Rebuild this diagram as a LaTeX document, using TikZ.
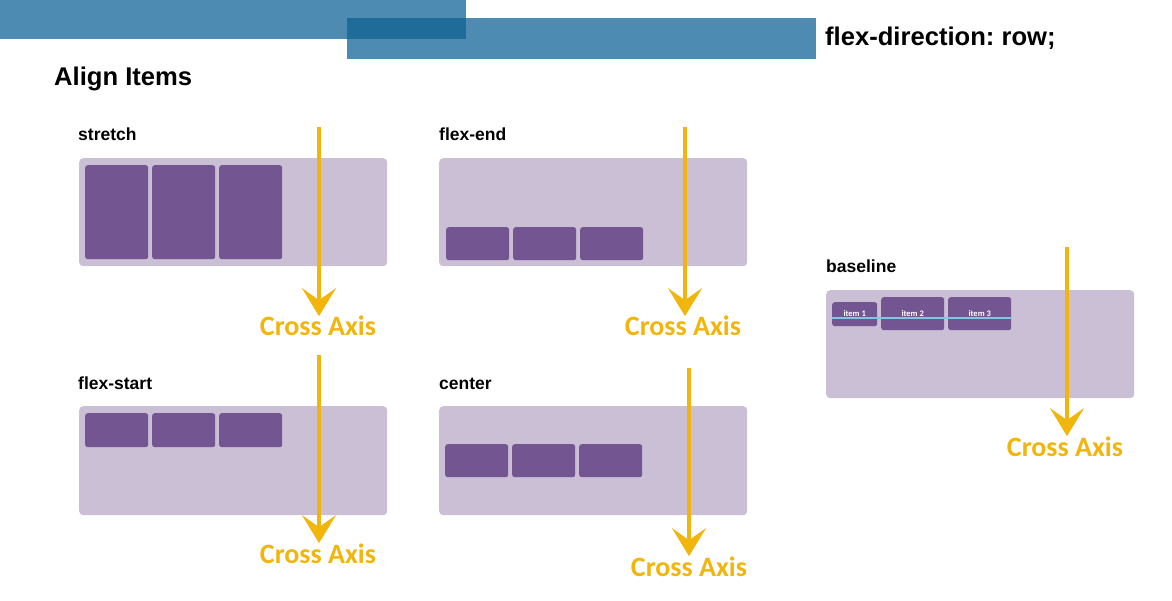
\documentclass[tikz,border=0pt]{standalone}
\usepackage{fontspec}
\setmainfont{Liberation Sans}
\newfontfamily\axisfont{Carlito}
\usetikzlibrary{arrows.meta}
\definecolor{barblue}{RGB}{78,139,179}
\definecolor{bardark}{RGB}{32,108,152}
\definecolor{boxlilac}{RGB}{203,191,214}
\definecolor{itempurple}{RGB}{115,85,146}
\definecolor{axisyellow}{RGB}{242,181,12}
\definecolor{baseblue}{RGB}{126,200,227}
\frenchspacing
\begin{document}
\begin{tikzpicture}[x=1pt,y=-1pt,
 container/.style={fill=boxlilac, rounded corners=4pt, draw=none, anchor=north west, inner sep=0, minimum width=308pt, minimum height=108pt},
 item/.style={fill=itempurple, rounded corners=2.5pt, anchor=north west, inner sep=0, minimum width=63pt},
 lbl/.style={anchor=base west, inner sep=0, font=\bfseries\fontsize{17.5}{20}\selectfont},
 headline/.style={anchor=base west, inner sep=0, font=\bfseries\fontsize{25.6}{28}\selectfont},
 axislbl/.style={anchor=base, inner sep=0, text=axisyellow, font=\axisfont\bfseries\fontsize{28}{30}\selectfont},
 axisarrow/.style={draw=axisyellow, line width=4pt, -{Stealth[length=28pt,width=34pt,inset=12pt]}},
 itemtxt/.style={text=white, font=\axisfont\bfseries\fontsize{8.5}{9}\selectfont, anchor=base, inner sep=0}
]
\useasboundingbox (0,0) rectangle (1172,601);
% header bars
\fill[barblue] (0,0) rectangle (466,39);
\fill[barblue] (347,18) rectangle (816,59);
\fill[bardark] (347,18) rectangle (466,39);
\node[headline] (title) at (54,86) {Align Items};
\node[headline] (fd) at (825,46) {flex-direction: row;};
% labels
\node[lbl] (lStretch) at (78,141) {stretch};
\node[lbl] (lEnd) at (439,141) {flex-end};
\node[lbl] (lStart) at (78,389) {flex-start};
\node[lbl] (lCenter) at (439,389) {center};
\node[lbl] (lBase) at (826,273) {baseline};
% containers
\node[container] (cStretch) at (79,158) {};
\node[container] (cEnd) at (439,158) {};
\node[container, minimum height=109pt] (cStart) at (79,406) {};
\node[container, minimum height=109pt] (cCenter) at (439,406) {};
\node[container] (cBase) at (826,290) {};
% stretch items
\node[item, minimum height=94pt] (s1) at (85,165) {};
\node[item, minimum height=94pt] (s2) at (152,165) {};
\node[item, minimum height=94pt] (s3) at (219,165) {};
% flex-end items
\node[item, minimum height=33pt] (e1) at (446,227) {};
\node[item, minimum height=33pt] (e2) at (513,227) {};
\node[item, minimum height=33pt] (e3) at (580,227) {};
% flex-start items
\node[item, minimum height=34pt] (f1) at (85,413) {};
\node[item, minimum height=34pt] (f2) at (152,413) {};
\node[item, minimum height=34pt] (f3) at (219,413) {};
% center items
\node[item, minimum height=33pt] (m1) at (445,444) {};
\node[item, minimum height=33pt] (m2) at (512,444) {};
\node[item, minimum height=33pt] (m3) at (579,444) {};
% baseline items
\node[item, minimum width=45pt, minimum height=24pt] (b1) at (832,302) {};
\node[item, minimum height=33pt] (b2) at (881,297) {};
\node[item, minimum height=33pt] (b3) at (948,297) {};
\coordinate (bl) at (0,318);
\coordinate (bt) at (0,317);
\node[itemtxt] (t1) at (b1.center |- bt) {item 1};
\node[itemtxt] (t2) at (b2.center |- bt) {item 2};
\node[itemtxt] (t3) at (b3.center |- bt) {item 3};
\draw[baseblue, line width=1.2pt] (b1.west |- bl) -- (b3.east |- bl);
% cross axis arrows
\coordinate (a1) at (319,127);
\node[axislbl] (x1) at (318,336) {Cross Axis};
\draw[axisarrow] (a1) -- (a1 |- x1.north);
\coordinate (a2) at (685,127);
\node[axislbl] (x2) at (683,336) {Cross Axis};
\draw[axisarrow] (a2) -- (a2 |- x2.north);
\coordinate (a3) at (319,355);
\node[axislbl] (x3) at (318,563) {Cross Axis};
\draw[axisarrow] (a3) -- (a3 |- x3.north);
\coordinate (a4) at (689,368);
\node[axislbl] (x4) at (689,576) {Cross Axis};
\draw[axisarrow] (a4) -- (a4 |- x4.north);
\coordinate (a5) at (1067,247);
\node[axislbl] (x5) at (1065,456) {Cross Axis};
\draw[axisarrow] (a5) -- (a5 |- x5.north);
\end{tikzpicture}
\end{document}
